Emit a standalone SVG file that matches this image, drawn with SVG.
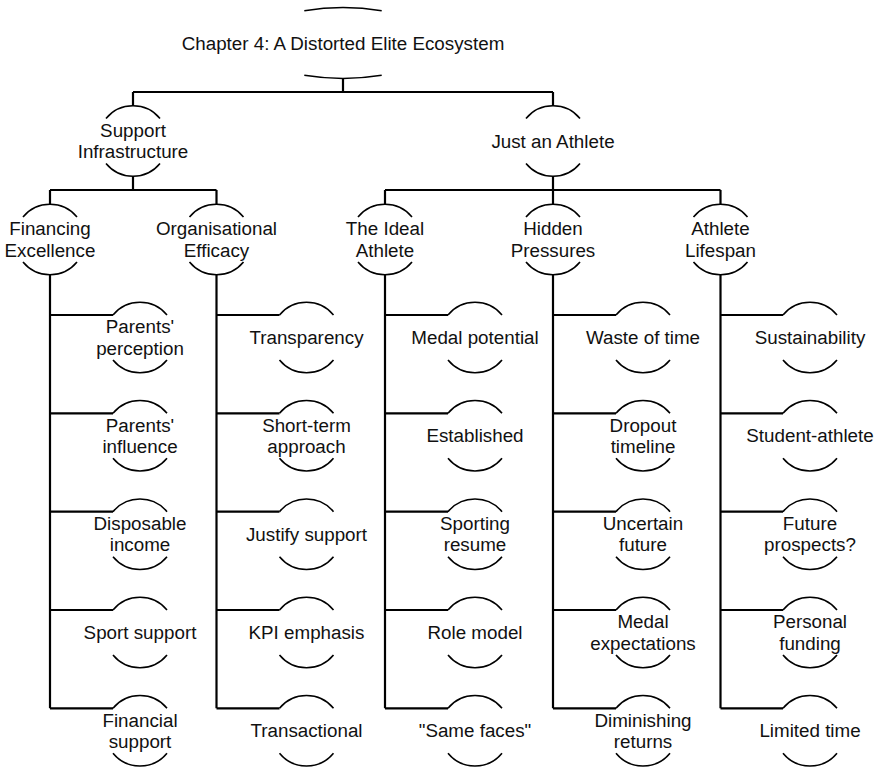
<svg xmlns="http://www.w3.org/2000/svg" xmlns:xlink="http://www.w3.org/1999/xlink" width="874" height="768" viewBox="0 0 874 768">
  <style>
    .arc { fill: none; stroke: #000; stroke-width: 1.6; }
    .wire { fill: none; stroke: #000; stroke-width: 2.2; }
    .lbl { font-family: "Liberation Sans", Arial, sans-serif; font-size: 18.8px; text-anchor: middle; fill: #111; }
  </style>
  <defs>
    <!-- node outline: upper and lower arc of a circle, middle band left open for the label -->
    <path id="bub" class="arc" d="M-27,-22.5 A35,35 0 0 1 27,-22.5 M-27,22.5 A35,35 0 0 0 27,22.5"/>
  </defs>
  <rect width="874" height="768" fill="#fff"/>

  <g id="connectors">
    <!-- root to level 1 -->
    <path class="wire" d="M343,79 V92 M133,92 H553 M133,92 V106 M553,92 V106"/>
    <!-- level 1 to level 2 -->
    <path class="wire" d="M133,176 V190 M50,190 H216.5 M50,190 V204.5 M216.5,190 V204.5"/>
    <path class="wire" d="M553,176 V190 M385,190 H720.5 M385,190 V204.5 M553,190 V204.5 M720.5,190 V204.5"/>
    <!-- level 2 trunks with leaf branches -->
    <path class="wire" d="M50,274.5 V708.3 M50,315 H113 M50,413.3 H113 M50,511.7 H113 M50,610 H113 M50,708.3 H113"/>
    <path class="wire" d="M216.5,274.5 V708.3 M216.5,315 H279.5 M216.5,413.3 H279.5 M216.5,511.7 H279.5 M216.5,610 H279.5 M216.5,708.3 H279.5"/>
    <path class="wire" d="M385,274.5 V708.3 M385,315 H448 M385,413.3 H448 M385,511.7 H448 M385,610 H448 M385,708.3 H448"/>
    <path class="wire" d="M553,274.5 V708.3 M553,315 H616 M553,413.3 H616 M553,511.7 H616 M553,610 H616 M553,708.3 H616"/>
    <path class="wire" d="M720.5,274.5 V708.3 M720.5,315 H783 M720.5,413.3 H783 M720.5,511.7 H783 M720.5,610 H783 M720.5,708.3 H783"/>
  </g>

  <!-- root -->
  <g id="root">
    <path class="arc" d="M304.3,10.7 A96,35.6 0 0 1 381.7,10.7 M304.3,75.3 A96,35.6 0 0 0 381.7,75.3"/>
    <text class="lbl" x="343" y="49.5">Chapter 4: A Distorted Elite Ecosystem</text>
  </g>

  <!-- level 1 -->
  <g id="support-infrastructure">
    <use xlink:href="#bub" x="133" y="141"/>
    <text class="lbl" x="133" y="136.7">Support</text>
    <text class="lbl" x="133" y="158.2">Infrastructure</text>
  </g>
  <g id="just-an-athlete">
    <use xlink:href="#bub" x="553" y="141"/>
    <text class="lbl" x="553" y="147.5">Just an Athlete</text>
  </g>

  <!-- level 2 -->
  <g id="financing-excellence">
    <use xlink:href="#bub" x="50" y="239.5"/>
    <text class="lbl" x="50" y="235.2">Financing</text>
    <text class="lbl" x="50" y="256.7">Excellence</text>
  </g>
  <g id="organisational-efficacy">
    <use xlink:href="#bub" x="216.5" y="239.5"/>
    <text class="lbl" x="216.5" y="235.2">Organisational</text>
    <text class="lbl" x="216.5" y="256.7">Efficacy</text>
  </g>
  <g id="ideal-athlete">
    <use xlink:href="#bub" x="385" y="239.5"/>
    <text class="lbl" x="385" y="235.2">The Ideal</text>
    <text class="lbl" x="385" y="256.7">Athlete</text>
  </g>
  <g id="hidden-pressures">
    <use xlink:href="#bub" x="553" y="239.5"/>
    <text class="lbl" x="553" y="235.2">Hidden</text>
    <text class="lbl" x="553" y="256.7">Pressures</text>
  </g>
  <g id="athlete-lifespan">
    <use xlink:href="#bub" x="720.5" y="239.5"/>
    <text class="lbl" x="720.5" y="235.2">Athlete</text>
    <text class="lbl" x="720.5" y="256.7">Lifespan</text>
  </g>

  <!-- leaves: Financing Excellence -->
  <g id="parents-perception">
    <use xlink:href="#bub" x="140" y="337.5"/>
    <text class="lbl" x="140" y="333.2">Parents'</text>
    <text class="lbl" x="140" y="354.7">perception</text>
  </g>
  <g id="parents-influence">
    <use xlink:href="#bub" x="140" y="435.8"/>
    <text class="lbl" x="140" y="431.5">Parents'</text>
    <text class="lbl" x="140" y="453">influence</text>
  </g>
  <g id="disposable-income">
    <use xlink:href="#bub" x="140" y="534.2"/>
    <text class="lbl" x="140" y="529.9">Disposable</text>
    <text class="lbl" x="140" y="551.4">income</text>
  </g>
  <g id="sport-support">
    <use xlink:href="#bub" x="140" y="632.5"/>
    <text class="lbl" x="140" y="639">Sport support</text>
  </g>
  <g id="financial-support">
    <use xlink:href="#bub" x="140" y="730.8"/>
    <text class="lbl" x="140" y="726.5">Financial</text>
    <text class="lbl" x="140" y="748">support</text>
  </g>

  <!-- leaves: Organisational Efficacy -->
  <g id="transparency">
    <use xlink:href="#bub" x="306.5" y="337.5"/>
    <text class="lbl" x="306.5" y="344">Transparency</text>
  </g>
  <g id="short-term-approach">
    <use xlink:href="#bub" x="306.5" y="435.8"/>
    <text class="lbl" x="306.5" y="431.5">Short-term</text>
    <text class="lbl" x="306.5" y="453">approach</text>
  </g>
  <g id="justify-support">
    <use xlink:href="#bub" x="306.5" y="534.2"/>
    <text class="lbl" x="306.5" y="540.7">Justify support</text>
  </g>
  <g id="kpi-emphasis">
    <use xlink:href="#bub" x="306.5" y="632.5"/>
    <text class="lbl" x="306.5" y="639">KPI emphasis</text>
  </g>
  <g id="transactional">
    <use xlink:href="#bub" x="306.5" y="730.8"/>
    <text class="lbl" x="306.5" y="737.3">Transactional</text>
  </g>

  <!-- leaves: The Ideal Athlete -->
  <g id="medal-potential">
    <use xlink:href="#bub" x="475" y="337.5"/>
    <text class="lbl" x="475" y="344">Medal potential</text>
  </g>
  <g id="established">
    <use xlink:href="#bub" x="475" y="435.8"/>
    <text class="lbl" x="475" y="442.3">Established</text>
  </g>
  <g id="sporting-resume">
    <use xlink:href="#bub" x="475" y="534.2"/>
    <text class="lbl" x="475" y="529.9">Sporting</text>
    <text class="lbl" x="475" y="551.4">resume</text>
  </g>
  <g id="role-model">
    <use xlink:href="#bub" x="475" y="632.5"/>
    <text class="lbl" x="475" y="639">Role model</text>
  </g>
  <g id="same-faces">
    <use xlink:href="#bub" x="475" y="730.8"/>
    <text class="lbl" x="475" y="737.3">"Same faces"</text>
  </g>

  <!-- leaves: Hidden Pressures -->
  <g id="waste-of-time">
    <use xlink:href="#bub" x="643" y="337.5"/>
    <text class="lbl" x="643" y="344">Waste of time</text>
  </g>
  <g id="dropout-timeline">
    <use xlink:href="#bub" x="643" y="435.8"/>
    <text class="lbl" x="643" y="431.5">Dropout</text>
    <text class="lbl" x="643" y="453">timeline</text>
  </g>
  <g id="uncertain-future">
    <use xlink:href="#bub" x="643" y="534.2"/>
    <text class="lbl" x="643" y="529.9">Uncertain</text>
    <text class="lbl" x="643" y="551.4">future</text>
  </g>
  <g id="medal-expectations">
    <use xlink:href="#bub" x="643" y="632.5"/>
    <text class="lbl" x="643" y="628.2">Medal</text>
    <text class="lbl" x="643" y="649.7">expectations</text>
  </g>
  <g id="diminishing-returns">
    <use xlink:href="#bub" x="643" y="730.8"/>
    <text class="lbl" x="643" y="726.5">Diminishing</text>
    <text class="lbl" x="643" y="748">returns</text>
  </g>

  <!-- leaves: Athlete Lifespan -->
  <g id="sustainability">
    <use xlink:href="#bub" x="810" y="337.5"/>
    <text class="lbl" x="810" y="344">Sustainability</text>
  </g>
  <g id="student-athlete">
    <use xlink:href="#bub" x="810" y="435.8"/>
    <text class="lbl" x="810" y="442.3">Student-athlete</text>
  </g>
  <g id="future-prospects">
    <use xlink:href="#bub" x="810" y="534.2"/>
    <text class="lbl" x="810" y="529.9">Future</text>
    <text class="lbl" x="810" y="551.4">prospects?</text>
  </g>
  <g id="personal-funding">
    <use xlink:href="#bub" x="810" y="632.5"/>
    <text class="lbl" x="810" y="628.2">Personal</text>
    <text class="lbl" x="810" y="649.7">funding</text>
  </g>
  <g id="limited-time">
    <use xlink:href="#bub" x="810" y="730.8"/>
    <text class="lbl" x="810" y="737.3">Limited time</text>
  </g>
</svg>
